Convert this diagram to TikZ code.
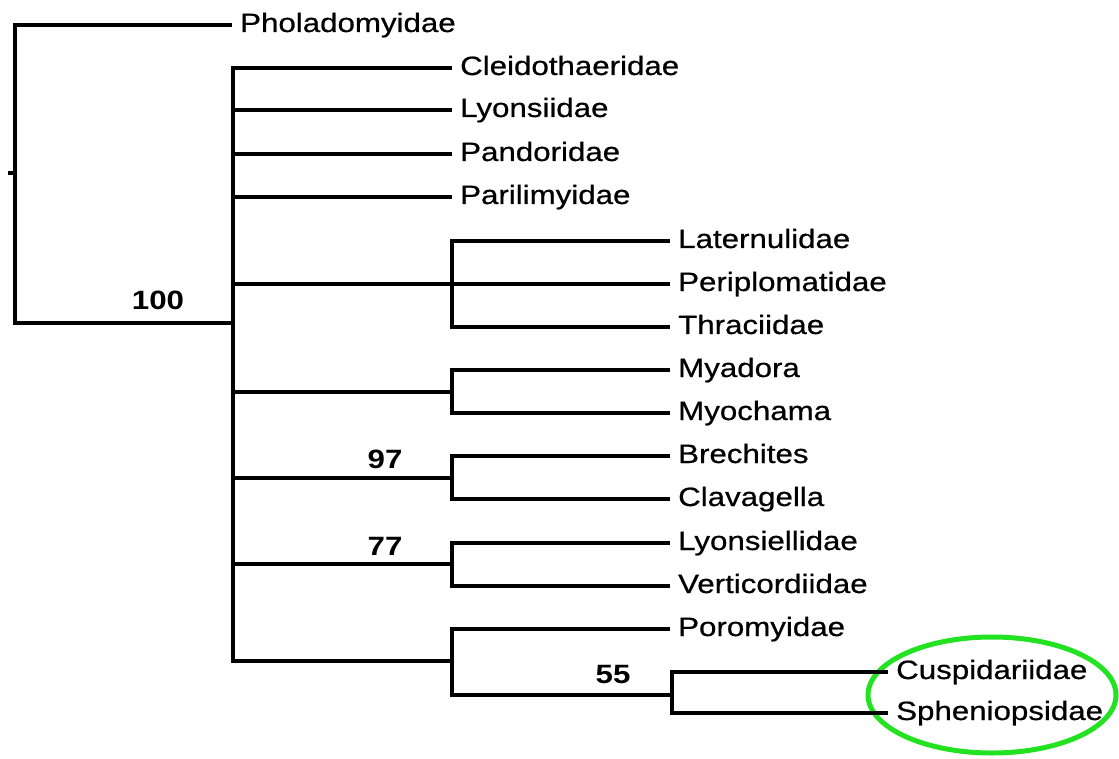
\documentclass[tikz,border=0pt]{standalone}
\usepackage{fontspec}
\setmainfont{Liberation Sans}
\newfontfamily\leaffont[FakeBold=0.6]{Liberation Sans}
\definecolor{ringgreen}{RGB}{34,226,34}
\newcommand\wideTxt[1]{\scalebox{1.18}[1]{#1}}
\tikzset{
  leaf/.style={anchor=west, inner xsep=8pt, inner ysep=0pt, text height=19pt, text depth=5pt,
    font=\leaffont\fontsize{26.5}{30}\selectfont},
  support/.style={anchor=base, inner sep=0pt, font=\bfseries\fontsize{26.5}{30}\selectfont},
  branch/.style={line width=3.5pt, line join=miter},
  ring/.style={draw=ringgreen, line width=5pt}
}
\begin{document}
\begin{tikzpicture}[x=1pt,y=-1pt]
\useasboundingbox (0,0) rectangle (1119,759);
% highlight ring
\draw[ring] (992,695) ellipse [x radius=124, y radius=58];
% leaves
\node[leaf] (pho) at (232,25) {\wideTxt{Pholadomyidae}};
\node[leaf] (cle) at (452,68) {\wideTxt{Cleidothaeridae}};
\node[leaf] (lyo) at (452,110) {\wideTxt{Lyonsiidae}};
\node[leaf] (pan) at (452,154) {\wideTxt{Pandoridae}};
\node[leaf] (par) at (452,197) {\wideTxt{Parilimyidae}};
\node[leaf] (lat) at (670,241) {\wideTxt{Laternulidae}};
\node[leaf] (per) at (670,284) {\wideTxt{Periplomatidae}};
\node[leaf] (thr) at (670,327) {\wideTxt{Thraciidae}};
\node[leaf] (mya) at (670,370) {\wideTxt{Myadora}};
\node[leaf] (myo) at (670,413) {\wideTxt{Myochama}};
\node[leaf] (bre) at (670,456) {\wideTxt{Brechites}};
\node[leaf] (cla) at (670,499) {\wideTxt{Clavagella}};
\node[leaf] (lyl) at (670,543) {\wideTxt{Lyonsiellidae}};
\node[leaf] (ver) at (670,586) {\wideTxt{Verticordiidae}};
\node[leaf] (por) at (670,629) {\wideTxt{Poromyidae}};
\node[leaf] (cus) at (888,672) {\wideTxt{Cuspidariidae}};
\node[leaf] (sph) at (888,713) {\wideTxt{Spheniopsidae}};
% internal points
\coordinate (root) at (15,173);
\coordinate (tick) at (8,173);
\coordinate (m) at (233,323);
\coordinate (k5) at (452,284);
\coordinate (k6) at (452,392);
\coordinate (k7) at (452,478);
\coordinate (k8) at (452,564);
\coordinate (k9) at (452,661);
\coordinate (k10) at (672,695);
% branches
\draw[branch] (tick) -- (root);
\draw[branch] (pho.west) -| (root) |- (m);
\draw[branch] (cle.west) -| (m) |- (k9);
\draw[branch] (m |- lyo.west) -- (lyo.west);
\draw[branch] (m |- pan.west) -- (pan.west);
\draw[branch] (m |- par.west) -- (par.west);
\draw[branch] (m |- k5) -- (k5);
\draw[branch] (lat.west) -| (k5) |- (thr.west);
\draw[branch] (k5) -- (per.west);
\draw[branch] (m |- k6) -- (k6);
\draw[branch] (mya.west) -| (k6) |- (myo.west);
\draw[branch] (m |- k7) -- (k7);
\draw[branch] (bre.west) -| (k7) |- (cla.west);
\draw[branch] (m |- k8) -- (k8);
\draw[branch] (lyl.west) -| (k8) |- (ver.west);
\draw[branch] (por.west) -| (k9) |- (k10);
\draw[branch] (cus.west) -| (k10) |- (sph.west);
% support values
\node[support] (s100) at (158,310) {\wideTxt{100}};
\node[support] (s97) at (385,468) {\wideTxt{97}};
\node[support] (s77) at (385,555) {\wideTxt{77}};
\node[support] (s55) at (613,683) {\wideTxt{55}};
\end{tikzpicture}
\end{document}
